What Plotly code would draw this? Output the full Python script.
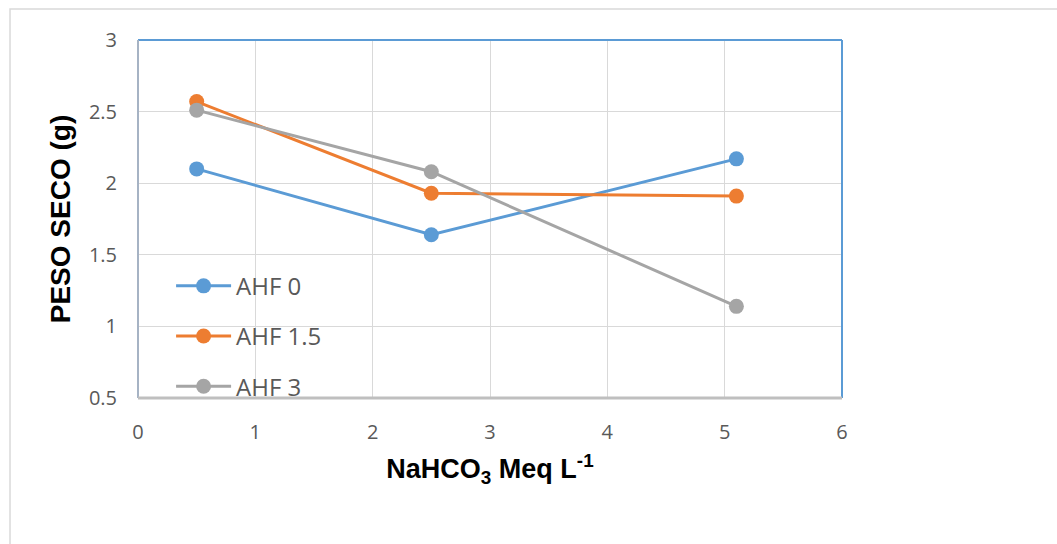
import plotly.graph_objects as go

x_vals = [0.5, 2.5, 5.1]
series_names = ["AHF 0", "AHF 1.5", "AHF 3"]
ahf0 = [2.10, 1.64, 2.17]
ahf15 = [2.57, 1.93, 1.91]
ahf3 = [2.51, 2.08, 1.14]
colors = ["#5B9BD5", "#ED7D31", "#A5A5A5"]
x_ticks = [0, 1, 2, 3, 4, 5, 6]
y_ticks = [0.5, 1, 1.5, 2, 2.5, 3]

fig = go.Figure()
for i, (name, ys) in enumerate(zip(series_names, [ahf0, ahf15, ahf3])):
    fig.add_trace(go.Scatter(
        x=x_vals, y=ys, name=name, mode="lines+markers",
        line=dict(color=colors[i], width=3),
        marker=dict(color=colors[i], size=15),
        legendgroup=name,
    ))

tickfont = dict(family="Open Sans, Arial", size=20, color="#595959")
fig.update_layout(
    width=1057, height=544,
    margin=dict(l=138, r=215, t=40, b=146),
    paper_bgcolor="white", plot_bgcolor="white",
    showlegend=True,
    legend=dict(
        x=0.047, y=0.375, xanchor="left", yanchor="top",
        font=dict(family="Open Sans, Arial", size=24, color="#595959"),
        bgcolor="rgba(0,0,0,0)", tracegroupgap=16, itemwidth=55,
    ),
    xaxis=dict(
        range=[0, 6], tickvals=x_ticks, showgrid=True, gridcolor="#D9D9D9", gridwidth=1,
        zeroline=False, showline=False, ticks="", tickfont=tickfont,
        ticklabelstandoff=20,
        title=dict(text="<b>NaHCO<sub>3</sub> Meq L<sup>-1</sup></b>",
                   font=dict(family="Arial", size=27, color="black"), standoff=15),
    ),
    yaxis=dict(
        range=[0.5, 3], tickvals=y_ticks, showgrid=True, gridcolor="#D9D9D9", gridwidth=1,
        zeroline=False, showline=False, ticks="", tickfont=tickfont,
        ticklabelstandoff=20,
        title=dict(text="<b>PESO SECO (g)</b>",
                   font=dict(family="Arial", size=28, color="black"), standoff=10),
    ),
    shapes=[
        dict(type="line", xref="paper", yref="paper", x0=0, x1=1, y0=1, y1=1,
             line=dict(color="#5B9BD5", width=2)),
        dict(type="line", xref="paper", yref="paper", x0=1, x1=1, y0=0, y1=1,
             line=dict(color="#5B9BD5", width=2)),
        dict(type="line", xref="paper", yref="paper", x0=0, x1=0, y0=0, y1=1,
             line=dict(color="#A6B3C4", width=2)),
        dict(type="line", xref="paper", yref="paper", x0=0, x1=1, y0=0, y1=0,
             line=dict(color="#BFBFBF", width=3)),
        dict(type="rect", xref="paper", yref="paper",
             x0=-0.1818, x1=1.32, y0=-0.43, y1=1.0866,
             line=dict(color="#D9D9D9", width=1.5), layer="below"),
    ],
)

fig.write_html("out.html")
